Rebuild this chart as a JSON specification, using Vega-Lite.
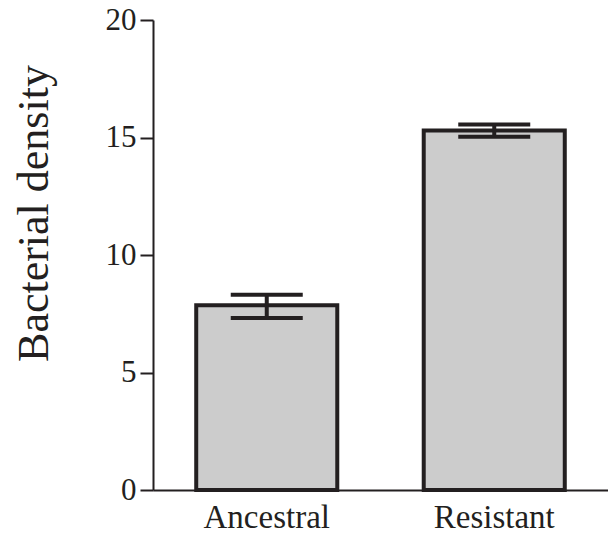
{
  "$schema": "https://vega.github.io/schema/vega-lite/v6.json",
  "autosize": "none",
  "padding": {"left": 153, "top": 20, "right": 0, "bottom": 44},
  "width": 455,
  "height": 470,
  "background": "white",
  "config": {
    "view": {"stroke": null},
    "font": "Liberation Serif",
    "axis": {"grid": false, "domainColor": "#231f20", "tickColor": "#231f20", "labelColor": "#231f20", "titleColor": "#231f20", "labelFont": "Liberation Serif", "titleFont": "Liberation Serif"}
  },
  "data": {
    "values": [
      {"group": "Ancestral", "mean": 7.86, "lo": 7.32, "hi": 8.31},
      {"group": "Resistant", "mean": 15.3, "lo": 15.03, "hi": 15.55}
    ]
  },
  "encoding": {
    "x": {
      "field": "group", "type": "nominal", "sort": null,
      "scale": {"paddingInner": 0.38, "paddingOuter": 0.19},
      "axis": {"title": null, "labelAngle": 0, "ticks": false, "tickSize": 0, "labelPadding": 37, "labelBaseline": "alphabetic", "labelFont": "Liberation Serif", "labelFontSize": 33, "labelColor": "#231f20", "domainWidth": 2}
    }
  },
  "layer": [
    {
      "mark": {"type": "bar", "fill": "#cccccc", "stroke": "#231f20", "strokeWidth": 4},
      "encoding": {
        "y": {
          "field": "mean", "type": "quantitative",
          "scale": {"domain": [0, 20], "nice": false},
          "axis": {
            "title": "Bacterial density", "values": [0, 5, 10, 15, 20],
            "tickSize": 13, "tickWidth": 2, "domainWidth": 2, "labelPadding": 4,
            "labelFont": "Liberation Serif", "labelFontSize": 31, "titleFont": "Liberation Serif", "titleFontSize": 44, "titleFontWeight": "normal",
            "titleX": -106, "titleY": 193, "titleAngle": -90, "titleBaseline": "alphabetic", "titleAlign": "center"
          }
        }
      }
    },
    {
      "mark": {"type": "rule", "stroke": "#231f20", "strokeWidth": 4},
      "encoding": {"y": {"field": "lo", "type": "quantitative"}, "y2": {"field": "hi"}}
    },
    {
      "mark": {"type": "tick", "size": 72, "thickness": 4, "color": "#231f20", "opacity": 1},
      "encoding": {"y": {"field": "lo", "type": "quantitative"}}
    },
    {
      "mark": {"type": "tick", "size": 72, "thickness": 4, "color": "#231f20", "opacity": 1},
      "encoding": {"y": {"field": "hi", "type": "quantitative"}}
    }
  ]
}
